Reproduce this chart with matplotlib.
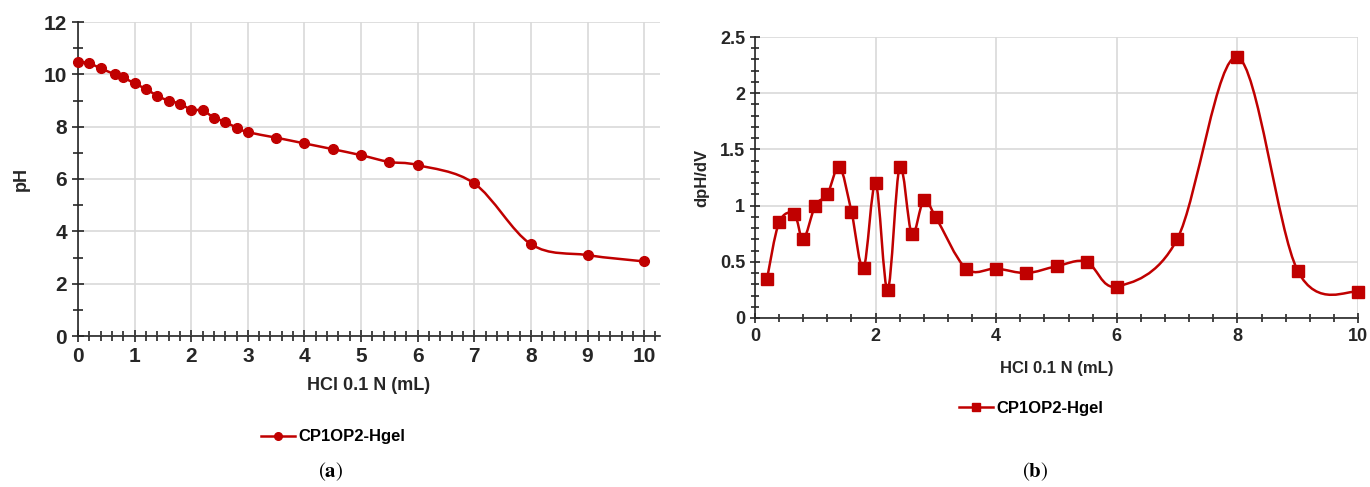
import numpy as np
import matplotlib
matplotlib.use("Agg")
import matplotlib.pyplot as plt
from matplotlib.path import Path
from matplotlib.patches import PathPatch
from matplotlib.lines import Line2D
from matplotlib.ticker import MultipleLocator, FuncFormatter

# (a) titration curve
vol_a = [0, 0.2, 0.4, 0.65, 0.8, 1.0, 1.2, 1.4, 1.6, 1.8, 2.0, 2.2, 2.4, 2.6, 2.8,
         3.0, 3.5, 4.0, 4.5, 5.0, 5.5, 6.0, 7.0, 8.0, 9.0, 10.0]
ph = [10.49, 10.42, 10.23, 10.0, 9.88, 9.65, 9.44, 9.18, 8.99, 8.88, 8.65, 8.62,
      8.35, 8.18, 7.96, 7.79, 7.58, 7.36, 7.14, 6.91, 6.65, 6.53, 5.83, 3.51, 3.09, 2.85]

# (b) first derivative
vol_b = [0.2, 0.4, 0.65, 0.8, 1.0, 1.2, 1.4, 1.6, 1.8, 2.0, 2.2, 2.4, 2.6, 2.8,
         3.0, 3.5, 4.0, 4.5, 5.0, 5.5, 6.0, 7.0, 8.0, 9.0, 10.0]
dphdv = [0.35, 0.85, 0.925, 0.70, 1.0, 1.10, 1.345, 0.945, 0.445, 1.20, 0.25, 1.345,
         0.75, 1.05, 0.895, 0.44, 0.44, 0.40, 0.46, 0.50, 0.28, 0.70, 2.32, 0.42, 0.23]

series_name = "CP1OP2-Hgel"
red = "#C00000"
grid_clr = "#D9D9D9"
txt_clr = "#262626"

plt.rcParams['font.family'] = ['Liberation Sans', 'DejaVu Sans']
plt.rcParams['mathtext.fontset'] = 'stix'


def smooth_path(x, y):
    """bezier path through the points, excel-style smoothed line"""
    pts = np.column_stack([x, y]).astype(float)
    n = len(pts)
    verts = [pts[0]]
    codes = [Path.MOVETO]
    for i in range(n - 1):
        p0 = pts[i - 1] if i > 0 else pts[i]
        p1 = pts[i]
        p2 = pts[i + 1]
        p3 = pts[i + 2] if i + 2 < n else pts[i + 1]
        verts += [p1 + (p2 - p0) / 6, p2 - (p3 - p1) / 6, p2]
        codes += [Path.CURVE4] * 3
    return Path(verts, codes)


def style_axes(ax):
    for s in ["top", "right"]:
        ax.spines[s].set_visible(False)
    for s in ["left", "bottom"]:
        ax.spines[s].set_color(txt_clr)
        ax.spines[s].set_linewidth(1.2)
    ax.grid(True, which="major", color=grid_clr, linewidth=1.2)
    ax.set_axisbelow(True)
    ax.tick_params(which="both", direction="inout", color=txt_clr, width=1.2)
    ax.tick_params(which="major", length=9)
    ax.tick_params(which="minor", length=7)
    for lab in ax.get_xticklabels() + ax.get_yticklabels():
        lab.set_fontweight("bold")
        lab.set_color(txt_clr)


fig = plt.figure(figsize=(13.7, 4.87), dpi=100)

# ---- panel (a)
ax1 = fig.add_axes([78 / 1370, 1 - 336 / 487, 582 / 1370, 314 / 487])
ax1.add_patch(PathPatch(smooth_path(vol_a, ph), fc="none", ec=red, lw=1.8, zorder=3))
ax1.plot(vol_a, ph, ls="none", marker="o", ms=7, color=red, zorder=4, clip_on=False)
ax1.set_xlim(0, 10.28)
ax1.set_ylim(0, 12)
ax1.xaxis.set_major_locator(MultipleLocator(1))
ax1.xaxis.set_minor_locator(MultipleLocator(0.2))
ax1.yaxis.set_major_locator(MultipleLocator(2))
ax1.yaxis.set_minor_locator(MultipleLocator(1))
ax1.tick_params(labelsize=15)
ax1.set_xlabel("HCl 0.1 N (mL)", fontsize=13, fontweight="bold", color=txt_clr, labelpad=8)
ax1.set_ylabel("pH", fontsize=13, fontweight="bold", color=txt_clr, labelpad=10)
style_axes(ax1)

# ---- panel (b)
ax2 = fig.add_axes([755 / 1370, 1 - 318 / 487, 603 / 1370, 281 / 487])
ax2.add_patch(PathPatch(smooth_path(vol_b, dphdv), fc="none", ec=red, lw=1.8, zorder=3))
ax2.plot(vol_b, dphdv, ls="none", marker="s", ms=8, color=red, zorder=4, clip_on=False)
ax2.set_xlim(0, 10)
ax2.set_ylim(0, 2.5)
ax2.xaxis.set_major_locator(MultipleLocator(2))
ax2.xaxis.set_minor_locator(MultipleLocator(0.4))
ax2.yaxis.set_major_locator(MultipleLocator(0.5))
ax2.yaxis.set_minor_locator(MultipleLocator(0.1))
ax2.yaxis.set_major_formatter(FuncFormatter(lambda v, p: f"{v:g}"))
ax2.tick_params(labelsize=13)
ax2.set_xlabel("HCl 0.1 N (mL)", fontsize=12, fontweight="bold", color=txt_clr, labelpad=12)
ax2.set_ylabel("dpH/dV", fontsize=12, fontweight="bold", color=txt_clr, labelpad=8)
style_axes(ax2)
ax2.tick_params(which="major", length=7)
ax2.tick_params(which="minor", length=6)

# legends below each panel
h1 = Line2D([], [], color=red, lw=1.8, marker="o", ms=5.5)
h2 = Line2D([], [], color=red, lw=1.8, marker="s", ms=6)
fig.legend([h1], [series_name], loc="center", bbox_to_anchor=(333 / 1370, 1 - 437 / 487),
           frameon=False, handlelength=2.0, handletextpad=0.2,
           prop={"weight": "bold", "size": 12})
fig.legend([h2], [series_name], loc="center", bbox_to_anchor=(1031 / 1370, 1 - 408 / 487),
           frameon=False, handlelength=2.0, handletextpad=0.2,
           prop={"weight": "bold", "size": 12})

# sub-captions
fig.text(331 / 1370, 1 - 472 / 487, r"($\mathbf{a}$)", ha="center", va="center",
         fontsize=15, family="STIXGeneral")
fig.text(1035 / 1370, 1 - 472 / 487, r"($\mathbf{b}$)", ha="center", va="center",
         fontsize=15, family="STIXGeneral")

fig.savefig("out.png", dpi=100)
